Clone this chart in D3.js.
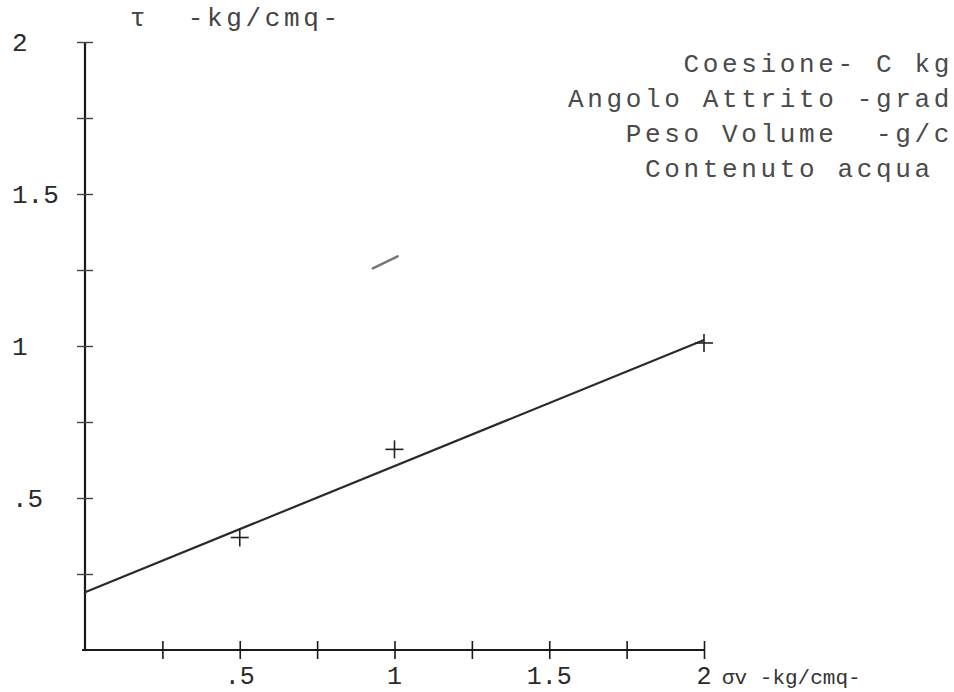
<!DOCTYPE html>
<html><head><meta charset="utf-8">
<script src="https://cdn.jsdelivr.net/npm/d3@7/dist/d3.min.js"></script>
<style>body{margin:0;background:#fff}svg{display:block}</style>
</head><body>
<svg id="chart" width="954" height="692"></svg>
<script>
// ---- data ----
const xTickValues = [0.25, 0.5, 0.75, 1, 1.25, 1.5, 1.75, 2];
const xTickLabels = {0.5: ".5", 1: "1", 1.5: "1.5", 2: "2"};
const yTickValues = [0.25, 0.5, 0.75, 1, 1.25, 1.5, 1.75, 2];
const yTickLabels = {0.5: ".5", 1: "1", 1.5: "1.5", 2: "2"};
const sigmaValues = [0.5, 1, 2];          // normal stress kg/cmq
const tauValues = [0.37, 0.66, 1.01];     // shear stress kg/cmq
const fitLineX = [0, 2];
const fitLineY = [0.19, 1.02];
const strayMarkX = [0.93, 1.01];
const strayMarkY = [1.255, 1.295];
const legendLines = ["Coesione- C kg", "Angolo Attrito -grad", "Peso Volume  -g/c", "Contenuto acqua "];
const yTitle = "\u03c4  -kg/cmq-";
const xTitle = "\u03c3v -kg/cmq-";

// ---- layout ----
const svg = d3.select("#chart");
const font = "'Liberation Mono', 'DejaVu Sans Mono', monospace";
const x = d3.scaleLinear().domain([0, 2]).range([85, 704]);
const y = d3.scaleLinear().domain([0, 2]).range([650, 42]);

// axes lines
const axisColor = "#1a1a1a";
const xAxis = d3.axisBottom(x).tickValues(xTickValues).tickSize(0).tickFormat("");
const gx = svg.append("g").attr("transform", `translate(0,${y(0)})`).call(xAxis);
gx.select(".domain").attr("d", `M${x(0) - 3},0H${x(2)}`).attr("stroke", axisColor).attr("stroke-width", 2.2);
gx.selectAll(".tick line").attr("y1", -9).attr("y2", 9).attr("stroke", axisColor).attr("stroke-width", 1.6);

const yAxis = d3.axisLeft(y).tickValues(yTickValues).tickSize(0).tickFormat("");
const gy = svg.append("g").attr("transform", `translate(${x(0)},0)`).call(yAxis);
gy.select(".domain").attr("d", `M0,${y(2)}V${y(0)}`).attr("stroke", axisColor).attr("stroke-width", 2.2);
gy.selectAll(".tick line").attr("x1", -8).attr("x2", 8).attr("stroke", "#444").attr("stroke-width", 1.4);

// tick labels
svg.append("g").selectAll("text").data(xTickValues.filter(v => xTickLabels[v]))
  .join("text")
  .attr("x", d => x(d)).attr("y", 684)
  .attr("text-anchor", "middle")
  .attr("font-family", font).attr("font-size", 25).attr("fill", "#2a2a2a")
  .text(d => xTickLabels[d]);

svg.append("g").selectAll("text").data(yTickValues.filter(v => yTickLabels[v]))
  .join("text")
  .attr("x", 12).attr("y", d => y(d) + 9)
  .attr("font-family", font).attr("font-size", 26).attr("fill", "#2a2a2a")
  .text(d => yTickLabels[d]);

// axis titles
const charW = 19.25;
svg.append("text").attr("x", 130).attr("y", 26)
  .attr("font-family", font).attr("font-size", 26).attr("letter-spacing", charW - 26 * 0.6)
  .attr("fill", "#444").style("white-space", "pre").text(yTitle);
svg.append("text").attr("x", 722).attr("y", 684)
  .attr("font-family", font).attr("font-size", 21).attr("fill", "#333").text(xTitle);

// legend (typewriter, right aligned)
svg.append("g").selectAll("text").data(legendLines).join("text")
  .attr("x", d => 953 - d.length * charW)
  .attr("y", (d, i) => 72 + i * 35)
  .attr("font-family", font).attr("font-size", 26).attr("letter-spacing", charW - 26 * 0.6)
  .attr("fill", "#4a4a4a")
  .style("white-space", "pre")
  .text(d => d);

// fit line
const line = d3.line().x(d => x(d[0])).y(d => y(d[1]));
svg.append("path").datum(fitLineX.map((v, i) => [v, fitLineY[i]]))
  .attr("d", line).attr("fill", "none").attr("stroke", "#2a2a2a").attr("stroke-width", 2.2);

// stray pen mark
svg.append("path").datum(strayMarkX.map((v, i) => [v, strayMarkY[i]]))
  .attr("d", line).attr("fill", "none").attr("stroke", "#777").attr("stroke-width", 2.5)
  .attr("stroke-linecap", "round");

// data points as crosses
const pts = sigmaValues.map((v, i) => [v, tauValues[i]]);
const cross = svg.append("g").selectAll("g").data(pts).join("g")
  .attr("transform", d => `translate(${x(d[0])},${y(d[1])})`);
cross.append("line").attr("x1", -9).attr("x2", 9).attr("stroke", "#222").attr("stroke-width", 1.6);
cross.append("line").attr("y1", -9).attr("y2", 9).attr("stroke", "#222").attr("stroke-width", 1.6);
</script>
</body></html>
